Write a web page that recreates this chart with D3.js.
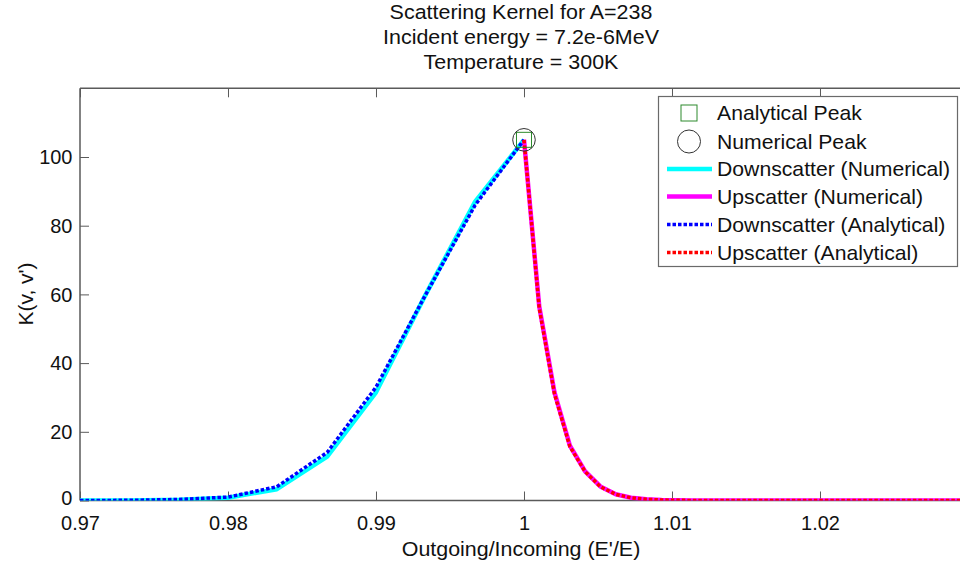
<!DOCTYPE html>
<html>
<head>
<meta charset="utf-8">
<script src="https://cdn.jsdelivr.net/npm/d3@7"></script>
<style>
  html, body { margin: 0; padding: 0; background: #fff; }
  svg { display: block; font-family: "Liberation Sans", Arial, Helvetica, sans-serif; }
</style>
</head>
<body>
<svg id="chart" width="960" height="568"></svg>
<script>
// ---- Data ----
const titleLines = ["Scattering Kernel for A=238", "Incident energy = 7.2e-6MeV", "Temperature = 300K"];
const xLabel = "Outgoing/Incoming (E'/E)";
const yLabel = "K(v, v')";
const xTicks = [0.97, 0.98, 0.99, 1.00, 1.01, 1.02];
const xTickLabels = ["0.97", "0.98", "0.99", "1", "1.01", "1.02"];
const yTicks = [0, 20, 40, 60, 80, 100];

// Downscatter (Numerical) - cyan solid
const downNumX = [0.9700, 0.9733, 0.9767, 0.9800, 0.9833, 0.9867, 0.9900, 0.9933, 0.9967, 1.0000];
const downNumY = [0.0, 0.03, 0.2, 0.8, 3.3, 12.8, 31.5, 59.5, 87.0, 105.0];
// Upscatter (Numerical) - magenta solid
const upNumX = [1.0000, 1.00103, 1.00206, 1.0031, 1.00413, 1.00516, 1.0062, 1.00723, 1.00826, 1.0093, 1.0103, 1.0114, 1.0300];
const upNumY = [105.0, 56.5, 31.5, 16.0, 8.5, 4.1, 1.8, 0.8, 0.35, 0.15, 0.06, 0.02, 0.0];
// Downscatter (Analytical) - blue dotted
const downAnaX = [0.9700, 0.9733, 0.9767, 0.9800, 0.9833, 0.9867, 0.9900, 0.9933, 0.9967, 1.0000];
const downAnaY = [0.0, 0.05, 0.3, 1.0, 4.0, 14.0, 33.0, 59.5, 86.0, 105.0];
// Upscatter (Analytical) - red dotted
const upAnaX = [1.0000, 1.00103, 1.00206, 1.0031, 1.00413, 1.00516, 1.0062, 1.00723, 1.00826, 1.0093, 1.0103, 1.0114, 1.0300];
const upAnaY = [105.0, 56.0, 31.0, 15.7, 8.4, 4.0, 1.8, 0.8, 0.35, 0.15, 0.06, 0.02, 0.0];
// Peaks
const analyticalPeak = [1.0, 105.0];
const numericalPeak = [1.0, 105.0];

const legendLabels = ["Analytical Peak", "Numerical Peak", "Downscatter (Numerical)", "Upscatter (Numerical)", "Downscatter (Analytical)", "Upscatter (Analytical)"];

// ---- Layout ----
const plot = { left: 80, right: 960, top: 88.3, bottom: 500.5 };
const svg = d3.select("#chart");

const x = d3.scaleLinear().domain([0.97, 1.02946]).range([plot.left, plot.right]);
const y = d3.scaleLinear().domain([0, 120]).range([plot.bottom, plot.top]);

const axisColor = "#5a5a5a";
const fontSize = 20;
const tickFont = 21;

// clip
svg.append("defs").append("clipPath").attr("id", "clip")
  .append("rect").attr("x", plot.left).attr("y", plot.top)
  .attr("width", plot.right - plot.left).attr("height", plot.bottom - plot.top);

// Title
const title = svg.append("g");
titleLines.forEach((t, i) => {
  title.append("text")
    .attr("transform", `translate(521,${19 + i * 25}) scale(1.1,1)`)
    .attr("text-anchor", "middle")
    .attr("font-size", 19.5)
    .attr("fill", "#111")
    .text(t);
});

// Axes frame
const frame = svg.append("g").attr("stroke", axisColor).attr("stroke-width", 1.5).attr("fill", "none");
frame.append("line").attr("x1", plot.left).attr("x2", plot.right).attr("y1", plot.bottom).attr("y2", plot.bottom);
frame.append("line").attr("x1", plot.left).attr("x2", plot.right).attr("y1", plot.top).attr("y2", plot.top);
frame.append("line").attr("x1", plot.left).attr("x2", plot.left).attr("y1", plot.top).attr("y2", plot.bottom);

// Bottom axis (inward ticks)
const xAxis = d3.axisBottom(x).tickValues(xTicks).tickFormat((d, i) => xTickLabels[i])
  .tickSizeInner(-9).tickSizeOuter(0).tickPadding(15);
const gx = svg.append("g").attr("transform", `translate(0,${plot.bottom})`).call(xAxis);
gx.select(".domain").remove();
gx.selectAll(".tick line").attr("stroke", axisColor).attr("stroke-width", 1);
gx.selectAll(".tick text").attr("font-size", tickFont).attr("fill", "#111")
  .attr("font-family", "'Liberation Sans', Arial, sans-serif")
  .attr("transform", "scale(0.95,1)");

// Top ticks
const xAxisTop = d3.axisTop(x).tickValues(xTicks).tickFormat("").tickSizeInner(-9).tickSizeOuter(0);
const gxt = svg.append("g").attr("transform", `translate(0,${plot.top})`).call(xAxisTop);
gxt.select(".domain").remove();
gxt.selectAll(".tick line").attr("stroke", axisColor).attr("stroke-width", 1);

// Left axis
const yAxis = d3.axisLeft(y).tickValues(yTicks).tickFormat(d3.format("d"))
  .tickSizeInner(-9).tickSizeOuter(0).tickPadding(8);
const gy = svg.append("g").attr("transform", `translate(${plot.left},0)`).call(yAxis);
gy.select(".domain").remove();
gy.selectAll(".tick line").attr("stroke", axisColor).attr("stroke-width", 1);
gy.selectAll(".tick text").attr("font-size", tickFont).attr("fill", "#111")
  .attr("font-family", "'Liberation Sans', Arial, sans-serif")
  .attr("transform", "scale(0.95,1)");
// nudge the zero label up slightly as in the reference
gy.selectAll(".tick").filter(d => d === 0).select("text").attr("dy", "0.2em");

// Axis labels
svg.append("text").attr("transform", "translate(521,556) scale(1.02,1)").attr("text-anchor", "middle")
  .attr("font-size", 21).attr("fill", "#111").text(xLabel);
svg.append("text").attr("transform", "translate(33,294) rotate(-90)").attr("text-anchor", "middle")
  .attr("font-size", 21).attr("fill", "#111").text(yLabel);

// Lines
const line = d3.line().x(d => x(d[0])).y(d => y(d[1]));
const zip = (xs, ys) => xs.map((v, i) => [v, ys[i]]);
const plotG = svg.append("g").attr("clip-path", "url(#clip)");

const series = [
  { data: zip(downNumX, downNumY), color: "#00ffff", width: 4.5, dash: null },
  { data: zip(upNumX, upNumY), color: "#ff00ff", width: 4.5, dash: null },
  { data: zip(downAnaX, downAnaY), color: "#0000ff", width: 3.5, dash: "3.5,2" },
  { data: zip(upAnaX, upAnaY), color: "#ff0000", width: 3.5, dash: "3.5,2" }
];
series.forEach(s => {
  plotG.append("path").datum(s.data).attr("d", line)
    .attr("fill", "none").attr("stroke", s.color).attr("stroke-width", s.width)
    .attr("stroke-dasharray", s.dash).attr("stroke-linejoin", "round");
});

// Peaks
svg.append("rect")
  .attr("x", x(analyticalPeak[0]) - 7.5).attr("y", y(analyticalPeak[1]) - 7.5)
  .attr("width", 15).attr("height", 15)
  .attr("fill", "none").attr("stroke", "#2d8a2d").attr("stroke-width", 1);
svg.append("circle")
  .attr("cx", x(numericalPeak[0])).attr("cy", y(numericalPeak[1])).attr("r", 11.3)
  .attr("fill", "none").attr("stroke", "#333").attr("stroke-width", 1);

// Legend
const lg = svg.append("g");
lg.append("rect").attr("x", 658.5).attr("y", 96.5).attr("width", 299).attr("height", 170)
  .attr("fill", "#fff").attr("stroke", "#6a6a6a").attr("stroke-width", 1.2);
const rowY = [113, 141.5, 169, 196.5, 224.5, 252.5];
legendLabels.forEach((lab, i) => {
  lg.append("text").attr("transform", `translate(717,${rowY[i] + 7}) scale(1.06,1)`)
    .attr("font-size", fontSize).attr("fill", "#111").text(lab);
});
lg.append("rect").attr("x", 689 - 8).attr("y", rowY[0] - 8).attr("width", 16).attr("height", 16)
  .attr("fill", "none").attr("stroke", "#2d8a2d").attr("stroke-width", 1);
lg.append("circle").attr("cx", 689).attr("cy", rowY[1]).attr("r", 11.5)
  .attr("fill", "none").attr("stroke", "#333").attr("stroke-width", 1);
series.forEach((s, i) => {
  lg.append("line").attr("x1", 667).attr("x2", 712).attr("y1", rowY[i + 2]).attr("y2", rowY[i + 2])
    .attr("stroke", s.color).attr("stroke-width", s.width).attr("stroke-dasharray", s.dash);
});
</script>
</body>
</html>
